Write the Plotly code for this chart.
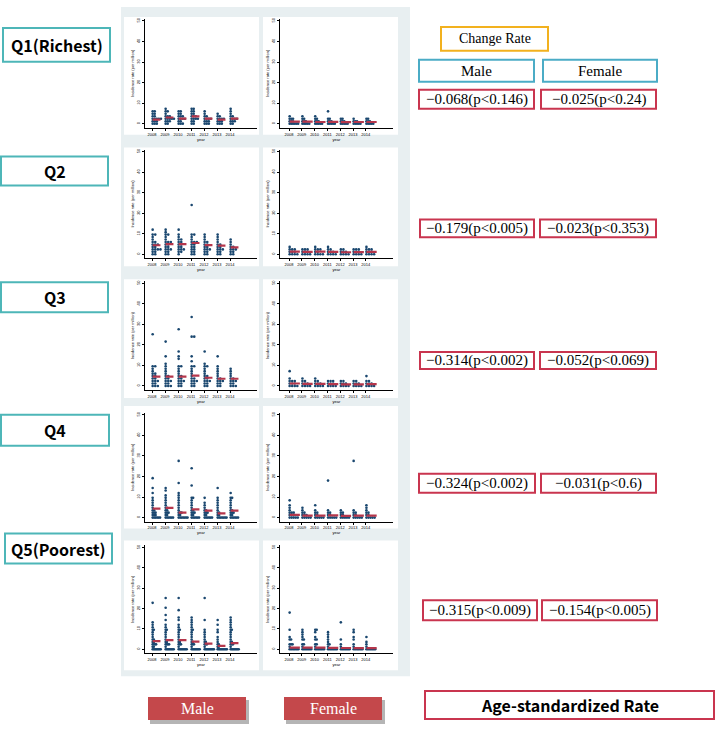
import plotly.graph_objects as go

W, H = 717, 732
YEARS = [2008, 2009, 2010, 2011, 2012, 2013, 2014]
QUINTILES = ["Q1(Richest)", "Q2", "Q3", "Q4", "Q5(Poorest)"]

# ---- regional incidence rates (per million), one list per year ----
q1_male = [
    [0, 0, 0.5, 1, 1, 1.5, 2, 2, 2.5, 3, 3, 3.5, 4, 4.5, 5, 6, 6.5],
    [0, 0.5, 1, 1, 1.5, 2, 2.5, 2.5, 3, 3, 3.5, 4, 4, 5, 5.5, 6, 7],
    [0, 0.5, 0.5, 1, 1.5, 2, 2, 2.5, 3, 3.5, 3.5, 4, 4.5, 5, 6, 6.5],
    [0, 0.5, 1, 1.5, 2, 2.5, 3, 3, 3.5, 4, 4, 4.5, 5, 5.5, 6, 7, 7.5],
    [0, 0, 0.5, 1, 1, 1.5, 2, 2, 2.5, 3, 3.5, 4, 4.5, 5.5],
    [0, 0, 0.5, 1, 1, 1.5, 2, 2, 2.5, 3, 3.5, 4, 4.5],
    [0, 0.5, 1, 1, 1.5, 2, 2, 2.5, 3, 3.5, 4, 5, 6, 7.5],
]
q1_female = [
    [0, 0, 0, 0, 0.5, 0.5, 1, 1, 1.5, 2, 2.5, 3, 4],
    [0, 0, 0, 0.5, 0.5, 1, 1, 1.5, 2, 2.5, 3.2],
    [0, 0, 0, 0.5, 0.5, 1, 1, 1.5, 2, 3, 4],
    [0, 0, 0, 0.5, 0.5, 1, 1, 1.5, 2, 2.5, 6.3],
    [0, 0, 0, 0.5, 0.5, 1, 1, 1.5, 2, 3],
    [0, 0, 0, 0.5, 0.5, 1, 1, 1.5, 2],
    [0, 0, 0, 0.5, 0.5, 1, 1, 1.5, 2, 2.5],
]
q2_male = [
    [0, 0.5, 1, 1.5, 2, 2, 3, 3, 3.5, 4, 4.5, 5, 5, 6, 6.5, 7, 8, 9, 10, 12.6],
    [0, 0.5, 1, 1.5, 2, 2.5, 3, 3.5, 4, 4.5, 5, 5.5, 6, 6, 7, 8, 9, 10, 11, 12.5],
    [0, 1, 1.5, 2, 2.5, 3, 3.5, 4, 4.5, 5, 5.5, 6, 7, 7.5, 8.5, 10, 11.5],
    [0, 0.5, 1, 1.5, 2, 3, 3.5, 4, 4.5, 5, 5.5, 6, 6.5, 7, 8, 9, 10, 23.8],
    [0, 0.5, 1, 1.5, 2, 2.5, 3, 3.5, 4, 4.5, 5, 5.5, 6, 7, 8, 9],
    [0, 0.5, 1, 1.5, 2, 2.5, 3, 3.5, 4, 4.5, 5, 6, 7, 8, 9],
    [0, 0.5, 1, 1.5, 2, 2.5, 3, 3.5, 4, 5, 6, 7],
]
q2_female = [
    [0, 0, 0, 0.5, 1, 1, 1.5, 2, 2.5, 3, 3.5],
    [0, 0, 0, 0.5, 1, 1, 1.5, 2, 2.5, 3],
    [0, 0, 0.5, 0.5, 1, 1.5, 2, 2.5, 3, 3.5],
    [0, 0, 0, 0.5, 1, 1, 1.5, 2, 2.5, 3.5],
    [0, 0, 0, 0.5, 1, 1, 1.5, 2, 2.5],
    [0, 0, 0, 0.5, 1, 1, 1.5, 2, 2.5, 3],
    [0, 0, 0, 0.5, 1, 1, 1.5, 2, 2.5, 3, 3.5],
]
q3_male = [
    [0, 0, 0.5, 1, 1.5, 2, 2.5, 3, 3.5, 4, 4.5, 5, 5.5, 6, 7, 8, 9, 10, 25.7],
    [0, 0, 0.5, 1, 1.5, 2, 2.5, 3, 3.5, 4, 4.5, 5, 6, 7, 8, 9, 11, 15, 21.5],
    [0, 0.5, 1, 1.5, 2, 2.5, 3, 3.5, 4, 4.5, 5, 6, 7, 8, 9, 10, 13, 15, 17, 28],
    [0, 0.5, 1, 1.5, 2, 2.5, 3, 3.5, 4, 5, 6, 7, 8, 9, 10, 12, 14, 23.5, 23.5, 34],
    [0, 0.5, 1, 1.5, 2, 2.5, 3, 3.5, 4, 4.5, 5, 6, 7, 8, 9, 10, 11, 16.5],
    [0, 0.5, 1, 1.5, 2, 2.5, 3, 3.5, 4, 5, 6, 7, 8, 9, 15],
    [0, 0, 0.5, 1, 1.5, 2, 2.5, 3, 3.5, 4, 5, 6, 7, 8.5],
]
q3_female = [
    [0, 0, 0, 0.5, 1, 1, 1.5, 2, 2.5, 3, 4, 6.8],
    [0, 0, 0, 0.5, 1, 1, 1.5, 2, 2.5, 3.5],
    [0, 0, 0, 0.5, 1, 1, 1.5, 2, 3, 4],
    [0, 0, 0, 0.5, 1, 1, 1.5, 2, 2.5, 3],
    [0, 0, 0, 0.5, 1, 1, 1.5, 2, 3],
    [0, 0, 0, 0.5, 1, 1, 1.5, 2, 2.5],
    [0, 0, 0, 0.5, 1, 1, 1.5, 2, 3, 4.5],
]
q4_male = [
    [0, 0, 0, 0, 0, 0.5, 1, 1, 1.5, 2, 2.5, 3, 3.5, 4, 5, 6, 7, 8, 10, 12, 14, 19.4],
    [0, 0, 0, 0, 0, 0.5, 1, 1.5, 2, 2.5, 3, 3.5, 4, 4.5, 5, 6, 7, 8, 9, 11, 13, 14.6],
    [0, 0, 0, 0, 0, 0, 0.5, 1, 1.5, 2, 2.5, 3, 4, 5, 6, 7, 8, 9, 11, 12, 17, 28],
    [0, 0, 0, 0, 0, 0.5, 1, 1.5, 2, 2.5, 3, 3.5, 4, 5, 6, 7, 8, 9, 10, 16, 23.8],
    [0, 0, 0, 0, 0, 0.5, 1, 1.5, 2, 2.5, 3, 3.5, 4, 5, 6, 7, 9.2],
    [0, 0, 0, 0, 0, 0, 0.5, 1, 1.5, 2, 3, 4, 5, 6, 7, 8, 10, 14.6],
    [0, 0, 0, 0, 0, 0.5, 1, 1.5, 2, 2.5, 3, 3.5, 4, 5, 6, 7, 8, 9, 10, 11.6],
]
q4_female = [
    [0, 0, 0, 0, 0.5, 1, 1, 1.5, 2, 2.5, 3, 4, 5, 6, 8],
    [0, 0, 0, 0, 0.5, 1, 1, 1.5, 2, 3, 4, 5],
    [0, 0, 0, 0, 0.5, 1, 1.5, 2, 3, 4, 5.5],
    [0, 0, 0, 0, 0.5, 1, 1.5, 2, 3, 4, 17.5],
    [0, 0, 0, 0, 0.5, 1, 1.5, 2, 3, 4],
    [0, 0, 0, 0, 0.5, 1, 1.5, 2, 3, 4, 28],
    [0, 0, 0, 0, 0.5, 1, 1.5, 2, 3, 4, 5, 6.5],
]
q5_male = [
    [0, 0, 0, 0, 0, 0, 0, 0, 1, 1.5, 2, 2.5, 3, 3, 3.5, 4, 4.5, 5, 6, 7, 8, 9, 10, 11, 12, 13.4, 22.7],
    [0, 0, 0, 0, 0, 0, 0, 0, 1, 2, 2.5, 3, 3, 3.5, 4, 5, 6, 7, 8, 9, 10, 11, 12, 14, 16.7, 20, 25],
    [0, 0, 0, 0, 0, 0, 0, 0, 1, 2, 2.5, 3, 3.5, 4, 5, 6, 7, 8, 9, 10, 11, 12, 14, 16, 19, 25],
    [0, 0, 0, 0, 0, 0, 0, 0, 1, 2, 2.5, 3, 3.5, 4, 5, 6, 7, 8, 9, 10, 11, 12, 13, 14, 15.7],
    [0, 0, 0, 0, 0, 0, 0, 0, 0, 1, 2, 2.5, 3, 3.5, 4, 5, 6, 7, 8, 9, 14, 25],
    [0, 0, 0, 0, 0, 0, 0, 0, 0, 1, 1.5, 2, 3, 4, 5, 6, 8, 10, 12, 14],
    [0, 0, 0, 0, 0, 0, 0, 0, 1, 2, 2.5, 3, 3.5, 4, 5, 6, 7, 8, 9, 10, 11, 12, 13, 14, 15.7],
]
q5_female = [
    [0, 0, 0, 0, 0, 0, 0, 1, 2, 2.5, 3, 4.5, 5, 6, 9, 17.7],
    [0, 0, 0, 0, 0, 0, 0, 1, 2, 3, 4.5, 5, 6, 7, 8, 9],
    [0, 0, 0, 0, 0, 0, 0, 1, 2, 3, 4.5, 5, 6, 8, 9, 9.5],
    [0, 0, 0, 0, 0, 0, 0, 1, 2, 3, 4, 5, 6, 7, 8],
    [0, 0, 0, 0, 0, 0, 0, 1, 2, 5, 12.9],
    [0, 0, 0, 0, 0, 0, 0, 1, 2, 5, 6, 8, 9],
    [0, 0, 0, 0, 0, 0, 0, 1, 2, 4, 6],
]

# ---- age-standardized rates per year ----
q1_male_asr = [2.0, 3.0, 2.5, 3.5, 2.5, 2.0, 2.5]
q1_female_asr = [1.0, 1.0, 0.8, 0.9, 0.7, 0.8, 0.8]
q2_male_asr = [4.4, 5.0, 5.0, 5.5, 4.5, 4.2, 3.4]
q2_female_asr = [1.3, 1.2, 1.3, 1.2, 1.0, 1.1, 1.2]
q3_male_asr = [4.5, 4.5, 4.5, 5.0, 4.0, 3.5, 3.5]
q3_female_asr = [1.2, 1.0, 1.0, 0.9, 0.8, 0.8, 0.9]
q4_male_asr = [4.4, 4.7, 2.4, 4.0, 3.4, 2.0, 3.4]
q4_female_asr = [1.3, 1.0, 1.0, 1.1, 0.8, 1.0, 1.0]
q5_male_asr = [4.0, 4.5, 4.5, 3.7, 2.8, 1.6, 3.0]
q5_female_asr = [0.8, 0.8, 0.8, 0.7, 0.6, 0.5, 0.5]

# ---- change rates ----
male_change = [-0.068, -0.179, -0.314, -0.324, -0.315]
male_p = [0.146, 0.005, 0.002, 0.002, 0.009]
female_change = [-0.025, -0.023, -0.052, -0.031, -0.154]
female_p = [0.24, 0.353, 0.069, 0.6, 0.005]

MALE = [q1_male, q2_male, q3_male, q4_male, q5_male]
FEMALE = [q1_female, q2_female, q3_female, q4_female, q5_female]
MALE_ASR = [q1_male_asr, q2_male_asr, q3_male_asr, q4_male_asr, q5_male_asr]
FEMALE_ASR = [q1_female_asr, q2_female_asr, q3_female_asr, q4_female_asr, q5_female_asr]

DOT = "#1a476f"
RED = "#b5364b"
TEAL = "#4db6b8"
HEAD = "#4bacc6"
BOXRED = "#c9354f"
ORANGE = "#f2b11e"


def fx(p):
    return p / W


def fy(p):
    return 1 - p / H


def dot_positions(groups, bin_w=1.2, width=0.8, max_dx=0.2):
    binned = []
    cmax = 1
    for vals in groups:
        d = {}
        for v in vals:
            d.setdefault(round(v / bin_w), []).append(v)
        binned.append(d)
        cmax = max(cmax, max(len(l) for l in d.values()))
    dx = min(max_dx, width / cmax)
    xs, ys = [], []
    for yr, d in zip(YEARS, binned):
        for b, vs in d.items():
            for i, _ in enumerate(vs):
                xs.append(yr + 0.05 + i * dx)
                ys.append(b * bin_w)
    return xs, ys


# panel geometry (pixels)
COLS = [dict(x0=145, x1=257, t2008=152, step=13.0), dict(x0=280, x1=393, t2008=289, step=12.8)]
ROW_Y0 = [122, 253, 385, 517, 649]
ROW_Y50 = [19, 150, 282, 414, 547]
YR = [-2, 51]

fig = go.Figure()
layout = dict(
    width=W, height=H, autosize=False,
    margin=dict(l=0, r=0, t=0, b=0),
    paper_bgcolor="white", plot_bgcolor="rgba(0,0,0,0)",
    showlegend=False,
)
shapes = []
annotations = []

# grey backdrop and white panels
shapes.append(dict(type="rect", xref="paper", yref="paper", x0=fx(121), x1=fx(410), y0=fy(676), y1=fy(5),
                   fillcolor="#e8eff1", line=dict(width=0), layer="below"))
panel_rows = [(15, 133), (146, 265), (278, 397), (405, 528), (540, 670)]
panel_cols = [(124, 259), (263, 398)]
for (t, b) in panel_rows:
    for (l, r) in panel_cols:
        shapes.append(dict(type="rect", xref="paper", yref="paper", x0=fx(l), x1=fx(r), y0=fy(b), y1=fy(t),
                           fillcolor="white", line=dict(width=0), layer="below"))

n = 0
for r in range(5):
    for c in range(2):
        n += 1
        data = MALE[r] if c == 0 else FEMALE[r]
        asr = MALE_ASR[r] if c == 0 else FEMALE_ASR[r]
        seg = 0.6 if c == 0 else 0.8
        col = COLS[c]
        xr = [2008 - (col["t2008"] - col["x0"]) / col["step"], 2008 + (col["x1"] - col["t2008"]) / col["step"]]
        k = (ROW_Y0[r] - ROW_Y50[r]) / 50.0
        ybot = ROW_Y0[r] - YR[0] * k
        ytop = ROW_Y50[r] - (YR[1] - 50) * k
        xs, ys = dot_positions(data)
        sfx = "" if n == 1 else str(n)
        fig.add_trace(go.Scatter(x=xs, y=ys, mode="markers", xaxis="x" + sfx, yaxis="y" + sfx,
                                 marker=dict(color=DOT, size=2.6, line=dict(width=0)), hoverinfo="skip"))
        lx, ly = [], []
        for yr, v in zip(YEARS, asr):
            lx += [yr + 0.05, yr + 0.05 + seg, None]
            ly += [v, v, None]
        fig.add_trace(go.Scatter(x=lx, y=ly, mode="lines", xaxis="x" + sfx, yaxis="y" + sfx,
                                 line=dict(color=RED, width=2.2), hoverinfo="skip"))
        layout["xaxis" + sfx] = dict(
            domain=[fx(col["x0"]), fx(col["x1"])], range=xr, anchor="y" + sfx,
            showline=True, linecolor="black", linewidth=1, ticks="outside", ticklen=2, tickwidth=0.7,
            tickcolor="black", tickvals=YEARS, ticktext=[str(y) for y in YEARS],
            tickfont=dict(size=4, color="black", family="Liberation Sans"),
            title=dict(text="year", font=dict(size=4, color="black", family="Liberation Sans"), standoff=1),
            showgrid=False, zeroline=False, fixedrange=True,
        )
        layout["yaxis" + sfx] = dict(
            domain=[fy(ybot), fy(ytop)], range=YR, anchor="x" + sfx,
            showline=True, linecolor="black", linewidth=1, ticks="outside", ticklen=2, tickwidth=0.7,
            tickcolor="black", tickvals=[0, 10, 20, 30, 40, 50], tickangle=-90,
            tickfont=dict(size=4, color="black", family="Liberation Sans"),
            title=dict(text="Incidence rate (per million)", font=dict(size=4, color="black", family="Liberation Sans"), standoff=1),
            showgrid=False, zeroline=False, fixedrange=True,
        )


def box(x0, y0, x1, y1, text, line_color, font, fill="white", lw=2, shadow=False):
    if shadow:
        shapes.append(dict(type="rect", xref="paper", yref="paper", x0=fx(x0 + 2), x1=fx(x1 + 3),
                           y0=fy(y1 + 4), y1=fy(y0 + 3), fillcolor="rgba(90,90,90,0.45)",
                           line=dict(width=0), layer="above"))
    shapes.append(dict(type="rect", xref="paper", yref="paper", x0=fx(x0), x1=fx(x1), y0=fy(y1), y1=fy(y0),
                       fillcolor=fill, line=dict(color=line_color, width=lw), layer="above"))
    annotations.append(dict(xref="paper", yref="paper", x=fx((x0 + x1) / 2), y=fy((y0 + y1) / 2),
                            text=text, showarrow=False, xanchor="center", yanchor="middle", font=font))


QFONT = dict(family="Noto Sans CJK KR", size=16, color="black")
SERIF = dict(family="Liberation Serif", size=15, color="black")

q_boxes = [(3, 26, 110, 60), (1, 155, 108, 184), (1, 281, 108, 311), (1, 414, 109, 445), (5, 533, 112, 563)]
for (x0, y0, x1, y1), q in zip(q_boxes, QUINTILES):
    box(x0, y0, x1, y1, "<b>" + q + "</b>", TEAL, QFONT)

box(441, 25, 548, 49, "Change Rate", ORANGE, dict(family="Liberation Serif", size=14, color="black"))
box(419, 58, 534, 80, "Male", HEAD, SERIF)
box(543, 58, 657, 80, "Female", HEAD, SERIF)

val_rows = [(88, 107), (218, 236), (351, 368), (473, 492), (600, 620)]
val_x = [[(419, 534), (541, 656)], [(420, 534), (540, 656)], [(420, 534), (540, 656)],
         [(419, 535), (541, 656)], [(423, 537), (542, 657)]]


def fmt(v, p):
    return "\u2212%.3f(p&lt;%s)" % (abs(v), "%g" % p)


for i, (t, b) in enumerate(val_rows):
    (a0, a1), (b0, b1) = val_x[i]
    box(a0, t, a1, b, fmt(male_change[i], male_p[i]), BOXRED, SERIF)
    box(b0, t, b1, b, fmt(female_change[i], female_p[i]), BOXRED, SERIF)

WFONT = dict(family="Liberation Serif", size=16, color="white")
box(148, 697, 246, 720, "Male", "#c4484b", WFONT, fill="#c4484b", lw=0, shadow=True)
box(284, 697, 382, 720, "Female", "#c4484b", WFONT, fill="#c4484b", lw=0, shadow=True)
box(425, 691, 714, 719, "<b>Age-standardized Rate</b>", BOXRED,
    dict(family="Noto Sans CJK KR", size=16, color="black"))

layout["shapes"] = shapes
layout["annotations"] = annotations
fig.update_layout(**layout)
fig.write_html("out.html", config={"displayModeBar": False},
               post_script="document.body.style.margin='0';document.body.style.overflow='hidden';")
